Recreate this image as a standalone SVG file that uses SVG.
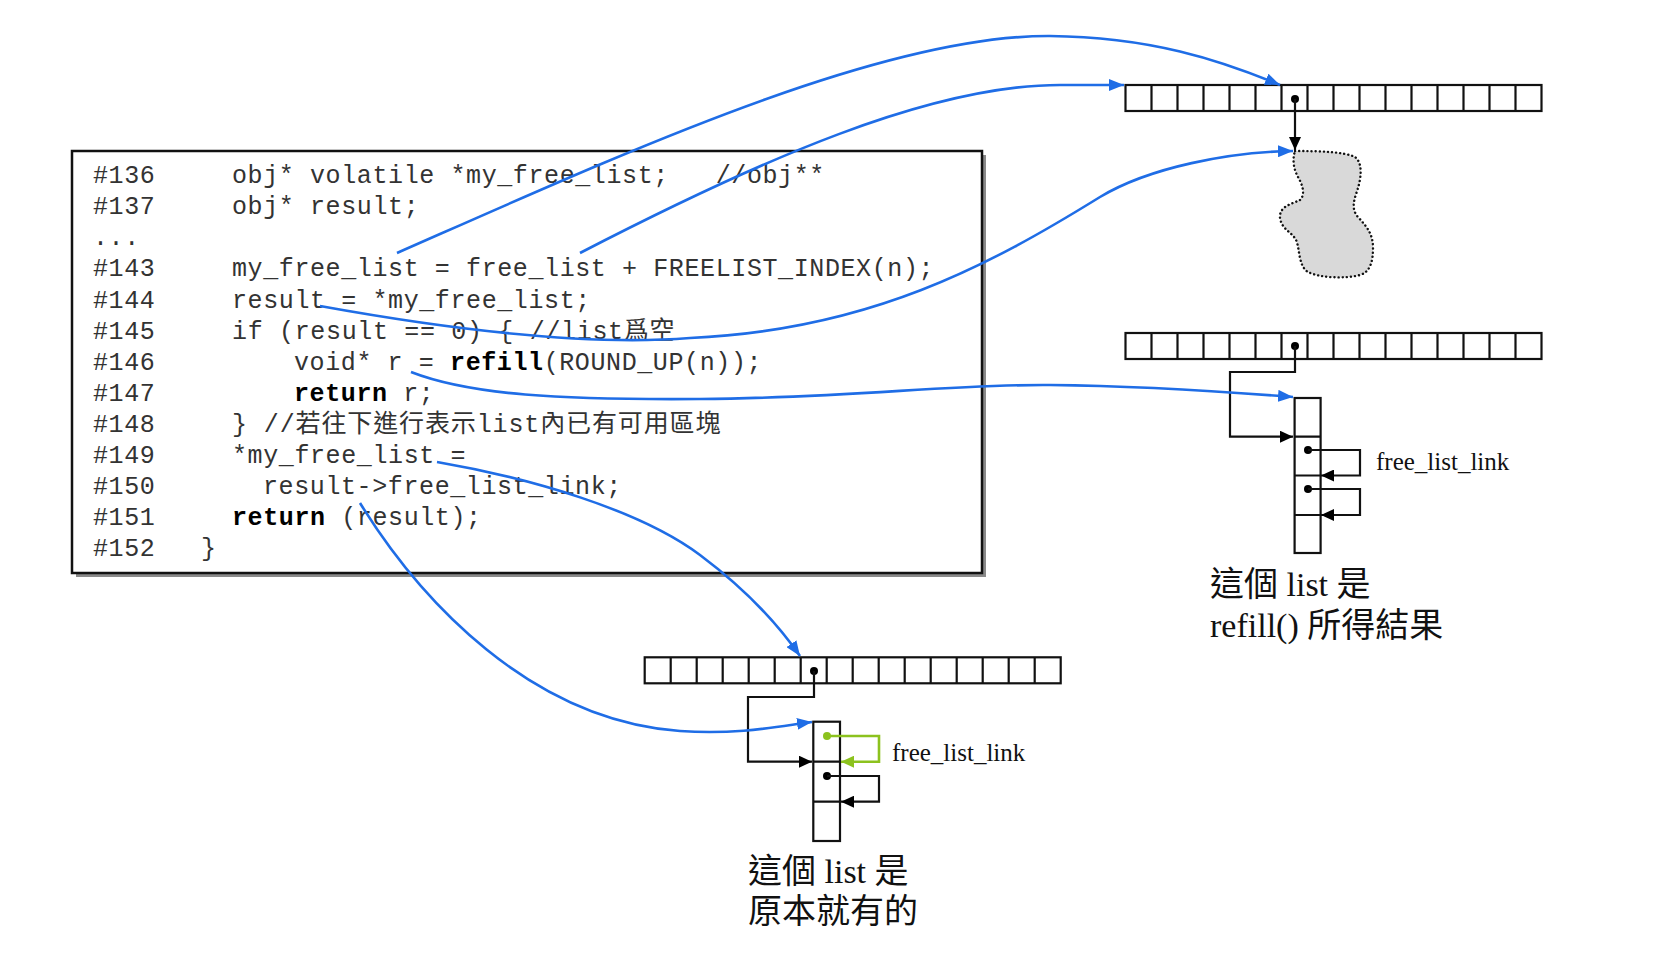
<svg xmlns="http://www.w3.org/2000/svg" width="1668" height="955" viewBox="0 0 1668 955">
<style>
.code{font-family:"Liberation Mono","Noto Sans CJK TC",monospace;font-size:25px;letter-spacing:0.6px;fill:#333;white-space:pre}
.b{font-weight:bold;fill:#000}
.lbl{font-family:"Liberation Serif","Noto Sans CJK TC",serif;font-size:25px;fill:#111}
.cap{font-family:"Liberation Serif","Noto Sans CJK TC",serif;font-size:34px;fill:#111}
.cell{fill:#fff;stroke:#111;stroke-width:2.2}
.ln{fill:none;stroke:#111;stroke-width:2.2}
.blue{fill:none;stroke:#1f6de6;stroke-width:2.6}
.grn{fill:none;stroke:#8cc21e;stroke-width:2.6}
.dot{fill:#000}
</style>
<defs>
<marker id="ab" markerUnits="userSpaceOnUse" markerWidth="16" markerHeight="12" refX="15" refY="6" orient="auto"><path d="M0,0 L15,6 L0,12 z" fill="#1f6de6"/></marker>
<marker id="ak" markerUnits="userSpaceOnUse" markerWidth="14" markerHeight="12" refX="13" refY="6" orient="auto"><path d="M0,0 L13,6 L0,12 z" fill="#000"/></marker>
<marker id="ag" markerUnits="userSpaceOnUse" markerWidth="14" markerHeight="12" refX="13" refY="6" orient="auto"><path d="M0,0 L13,6 L0,12 z" fill="#8cc21e"/></marker>
<g id="arr">
<rect class="cell" x="0" y="0" width="416" height="26"/>
<path class="ln" d="M26,0v26M52,0v26M78,0v26M104,0v26M130,0v26M156,0v26M182,0v26M208,0v26M234,0v26M260,0v26M286,0v26M312,0v26M338,0v26M364,0v26M390,0v26"/>
</g>
</defs>
<rect width="1668" height="955" fill="#fff"/>

<g id="code">
<rect x="76" y="155" width="910" height="422" fill="#8a8a8a"/>
<rect x="72" y="151" width="910" height="422" fill="#fff" stroke="#111" stroke-width="2.5"/>
<text class="code" x="93" y="183">#136</text><text class="code" x="232" y="183" xml:space="preserve">obj* volatile *my_free_list;   //obj**</text>
<text class="code" x="93" y="214">#137</text><text class="code" x="232" y="214">obj* result;</text>
<text class="code" x="93" y="245">...</text>
<text class="code" x="93" y="276">#143</text><text class="code" x="232" y="276">my_free_list = free_list + FREELIST_INDEX(n);</text>
<text class="code" x="93" y="308">#144</text><text class="code" x="232" y="308">result = *my_free_list;</text>
<text class="code" x="93" y="339">#145</text><text class="code" x="232" y="339" textLength="443" lengthAdjust="spacing">if (result == 0) { //list爲空</text>
<text class="code" x="93" y="370">#146</text><text class="code" x="294" y="370">void* r = <tspan class="b">refill</tspan>(ROUND_UP(n));</text>
<text class="code" x="93" y="401">#147</text><text class="code" x="294" y="401"><tspan class="b">return</tspan> r;</text>
<text class="code" x="93" y="432">#148</text><text class="code" x="232" y="432" textLength="489" lengthAdjust="spacing">} //若往下進行表示list內已有可用區塊</text>
<text class="code" x="93" y="463">#149</text><text class="code" x="232" y="463">*my_free_list =</text>
<text class="code" x="93" y="494">#150</text><text class="code" x="263" y="494">result-&gt;free_list_link;</text>
<text class="code" x="93" y="525">#151</text><text class="code" x="232" y="525"><tspan class="b">return</tspan> (result);</text>
<text class="code" x="93" y="556">#152</text><text class="code" x="201" y="556">}</text>
</g>

<g id="array-top">
<use href="#arr" x="1125.5" y="85"/>
<circle class="dot" cx="1295" cy="99" r="4"/>
</g>

<g id="blob">
<path d="M1295,151 C1320,151 1345,152 1355,157 C1363,163 1361,178 1358,188 C1355,198 1350,208 1358,217 C1366,226 1373,233 1373,248 C1373,262 1370,272 1360,275 C1345,279 1320,278 1308,272 C1298,266 1300,248 1296,240 C1292,232 1282,230 1280,218 C1279,206 1292,204 1300,200 C1306,194 1302,184 1298,177 C1294,170 1292,160 1295,151 Z" fill="#d9d9d9" stroke="#111" stroke-width="2.4" stroke-dasharray="0.1 4" stroke-linecap="round"/>
</g>

<g id="array-mid">
<use href="#arr" x="1125.5" y="333"/>
<circle class="dot" cx="1295" cy="346" r="4"/>
</g>

<g id="list-refill">
<rect class="cell" x="1294.6" y="398" width="26" height="155"/>
<path class="ln" d="M1294.6,436.7h26M1294.6,475.5h26M1294.6,515h26"/>
<circle class="dot" cx="1308" cy="450" r="4"/>
<circle class="dot" cx="1308" cy="489" r="4"/>
<text class="lbl" x="1376" y="470">free_list_link</text>
<text class="cap" x="1210" y="596">這個 list 是</text>
<text class="cap" x="1210" y="637">refill() 所得結果</text>
</g>

<g id="array-bottom">
<use href="#arr" x="644.7" y="657.3"/>
<circle class="dot" cx="814" cy="671" r="4"/>
</g>

<g id="list-orig">
<rect class="cell" x="813.3" y="721.7" width="26.7" height="119.3"/>
<path class="ln" d="M813.3,761.7h26.7M813.3,801.7h26.7"/>
<circle cx="827" cy="736" r="4" fill="#8cc21e"/>
<circle class="dot" cx="827" cy="776" r="4"/>
<text class="lbl" x="892" y="761">free_list_link</text>
<text class="cap" x="748" y="883">這個 list 是</text>
<text class="cap" x="748" y="923">原本就有的</text>
</g>

<g id="connectors">
<path class="ln" d="M1295,99 V150" marker-end="url(#ak)"/>
<path class="ln" d="M1295,346 V372 H1230 V436.7 H1293" marker-end="url(#ak)"/>
<path class="ln" d="M1308,450 H1360 V475.5 H1321" marker-end="url(#ak)"/>
<path class="ln" d="M1308,489 H1360 V515 H1321" marker-end="url(#ak)"/>
<path class="ln" d="M814,671 V697 H748 V761.7 H812" marker-end="url(#ak)"/>
<path class="grn" d="M827,736 H879 V761.7 H841" marker-end="url(#ag)"/>
<path class="ln" d="M827,776 H879 V801.7 H841" marker-end="url(#ak)"/>
<path class="blue" d="M397,253 C620,155 880,35 1050,36 C1150,37 1220,60 1280,85" marker-end="url(#ab)"/>
<path class="blue" d="M580,253 C760,160 930,85 1060,85 L1124,85" marker-end="url(#ab)"/>
<path class="blue" d="M320,306 C480,335 600,345 690,338 C870,330 990,265 1100,197 C1150,167 1230,152 1293,151" marker-end="url(#ab)"/>
<path class="blue" d="M411,372 C470,395 560,400 700,399 C850,398 950,384 1050,385 C1150,386 1230,392 1293,397" marker-end="url(#ab)"/>
<path class="blue" d="M437,462 C530,478 640,510 700,555 C740,585 775,620 800,656" marker-end="url(#ab)"/>
<path class="blue" d="M360,503 C420,600 530,720 680,731 C740,735 780,726 812,722" marker-end="url(#ab)"/>
</g>
</svg>
